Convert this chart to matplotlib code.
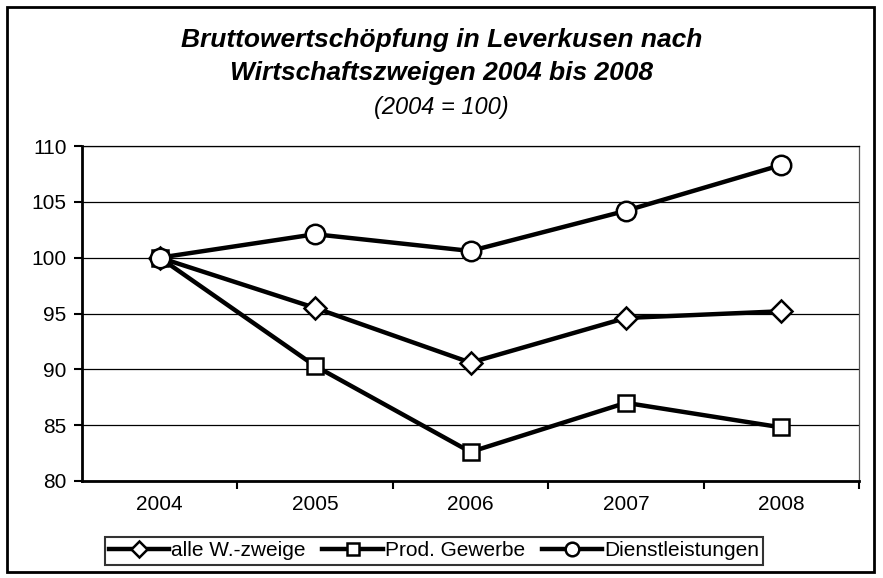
import matplotlib.pyplot as plt
from matplotlib.patches import Rectangle

plt.rcParams['font.family'] = ['Liberation Sans', 'DejaVu Sans']

jahre = ['2004', '2005', '2006', '2007', '2008']
alle_zweige = [100, 95.5, 90.6, 94.6, 95.2]
prod_gewerbe = [100, 90.3, 82.6, 87.0, 84.8]
dienstleistungen = [100, 102.1, 100.6, 104.2, 108.3]

fig = plt.figure(figsize=(8.83, 5.78), dpi=100)
# plot area: x 82..859, y 146..481 (px)
ax = fig.add_axes([82 / 883, 97 / 578, 777 / 883, 335 / 578])

x = range(len(jahre))
estilo = dict(color='black', linewidth=3.2, markerfacecolor='white',
              markeredgecolor='black', markeredgewidth=1.8)
ax.plot(x, alle_zweige, marker='D', markersize=11, label='alle W.-zweige', **estilo)
ax.plot(x, prod_gewerbe, marker='s', markersize=12, label='Prod. Gewerbe', **estilo)
ax.plot(x, dienstleistungen, marker='o', markersize=14, label='Dienstleistungen', **estilo)

ax.set_xlim(-0.5, 4.5)
ax.set_ylim(80, 110)
ax.set_yticks(range(80, 111, 5))
ax.set_xticks(list(x))
ax.set_xticklabels(jahre)
ax.set_xticks([0.5, 1.5, 2.5, 3.5, 4.5], minor=True)
ax.tick_params(axis='x', which='major', length=0, pad=10, labelsize=15)
ax.tick_params(axis='x', which='minor', length=6, width=1.5, direction='out')
ax.tick_params(axis='y', length=6, width=1.5, direction='out', labelsize=15, pad=5)
ax.yaxis.grid(True, color='black', linewidth=0.9)
ax.set_axisbelow(True)
ax.spines['top'].set_linewidth(0.9)
ax.spines['right'].set_linewidth(0.9)
ax.spines['right'].set_color('#555555')
for s in ['left', 'bottom']:
    ax.spines[s].set_linewidth(2)

fig.text(0.5, 1 - 40 / 578, 'Bruttowertschöpfung in Leverkusen nach',
         ha='center', va='center', fontsize=19, fontweight='bold', fontstyle='italic')
fig.text(0.5, 1 - 73 / 578, 'Wirtschaftszweigen 2004 bis 2008',
         ha='center', va='center', fontsize=19, fontweight='bold', fontstyle='italic')
fig.text(0.5, 1 - 107 / 578, '(2004 = 100)', ha='center', va='center', fontsize=17,
         fontstyle='italic')

leg = fig.legend(loc='center', bbox_to_anchor=(434 / 883, 1 - 551 / 578), ncol=3, fontsize=15,
                 frameon=True, fancybox=False, edgecolor='black', handlelength=2.9,
                 markerscale=0.7, handletextpad=0.1, columnspacing=0.8, borderpad=0.2,
                 borderaxespad=0)
leg.get_frame().set_linewidth(1.5)

fig.patches.append(Rectangle((7 / 883, 6 / 578), 867 / 883, 565 / 578, transform=fig.transFigure,
                             fill=False, edgecolor='black', linewidth=2))

fig.savefig('out.png', dpi=100)
